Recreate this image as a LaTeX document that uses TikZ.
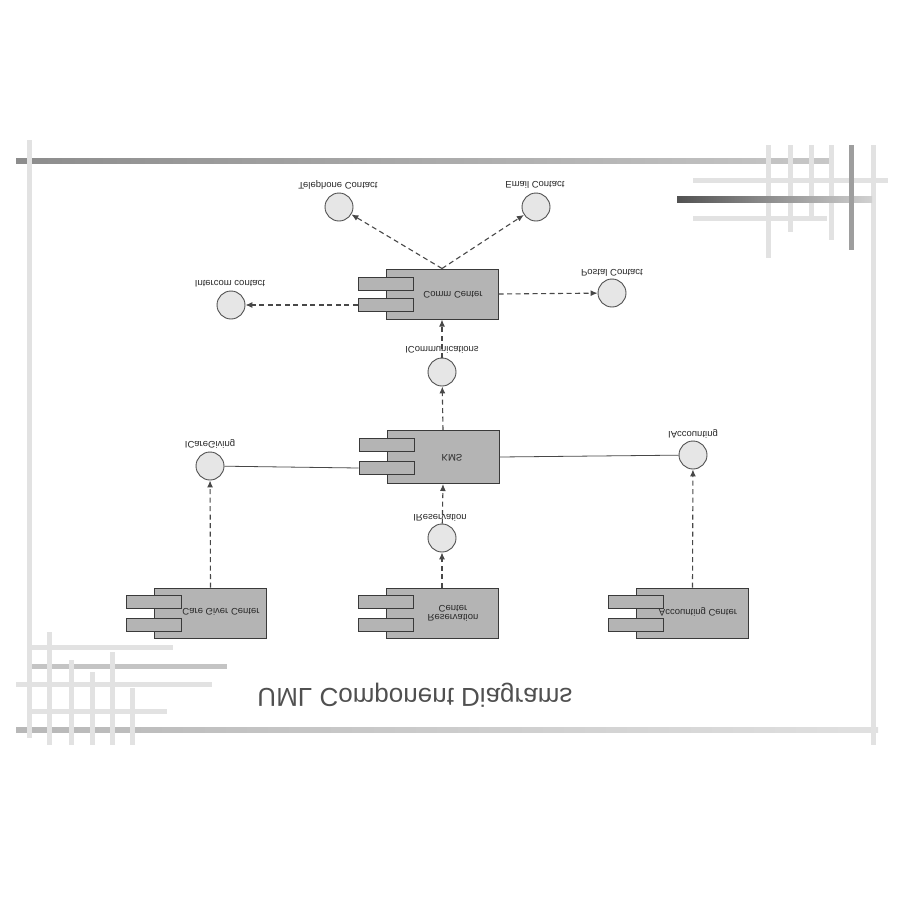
\documentclass[tikz,border=0pt]{standalone}
\usepackage{fontspec}
\setmainfont{Liberation Sans}
\usepackage{graphicx}
\usetikzlibrary{arrows.meta}
\definecolor{boxfill}{HTML}{B4B4B4}
\definecolor{boxborder}{HTML}{3A3A3A}
\definecolor{circfill}{HTML}{E6E6E6}
\definecolor{circborder}{HTML}{505050}
\definecolor{linecol}{HTML}{484848}
\definecolor{textcol}{HTML}{2A2A2A}
\definecolor{titlecol}{HTML}{505050}
\definecolor{barlight}{HTML}{E2E2E2}
\definecolor{barmid}{HTML}{C4C4C4}
\newcommand{\flip}[1]{\scalebox{1}[-1]{#1}}
\tikzset{
  comp/.style={draw=boxborder, fill=boxfill, line width=1pt, minimum width=112pt, minimum height=50pt, inner sep=0pt},
  comptab/.style={draw=boxborder, fill=boxfill, line width=1pt, minimum width=55pt, minimum height=13pt, inner sep=0pt},
  iface/.style={circle, draw=circborder, fill=circfill, line width=0.9pt, minimum size=28pt, inner sep=0pt},
  lbl/.style={font=\fontsize{9.5}{11}\selectfont, text=textcol, inner sep=0pt},
  dep/.style={draw=linecol, line width=1.1pt, dash pattern=on 5pt off 3.5pt, -{Latex[length=7pt,width=6pt]}},
  assoc/.style={draw=linecol, line width=0.8pt},
  lightbar/.style={draw=barlight, line width=5pt},
}
\begin{document}
\begin{tikzpicture}[x=1pt,y=-1pt]
\useasboundingbox (0,0) rectangle (900,900);
\fill[white] (0,0) rectangle (900,900);
% ---- frame decoration ----
\shade[left color=black!45, right color=black!22] (16,158.5) rectangle (830,163.5);
\shade[left color=black!28, right color=black!12] (16,727.5) rectangle (878,732.5);
\draw[lightbar] (29,140) -- (29,738);
\draw[lightbar] (873,145) -- (873,745);
% top right grid
\draw[lightbar] (693,180) -- (888,180);
\draw[lightbar] (693,218) -- (827,218);
\draw[lightbar] (768,145) -- (768,258);
\draw[lightbar] (790,145) -- (790,232);
\draw[lightbar] (811,145) -- (811,220);
\draw[lightbar] (831,145) -- (831,240);
\shade[left color=black!68, right color=black!18] (677,196) rectangle (872,202);
\draw[draw=black!38, line width=5pt] (851,145) -- (851,250);
% bottom left grid
\draw[lightbar] (29,647) -- (173,647);
\draw[draw=barmid, line width=5pt] (32,666) -- (227,666);
\draw[lightbar] (16,684) -- (212,684);
\draw[lightbar] (32,711) -- (167,711);
\draw[lightbar] (49,632) -- (49,745);
\draw[lightbar] (71,660) -- (71,745);
\draw[lightbar] (92,672) -- (92,745);
\draw[lightbar] (112,652) -- (112,745);
\draw[lightbar] (132,688) -- (132,745);
% ---- components ----
\node[comp] (comm) at (442,294) {};
\node[comptab] (commtabA) at (385.5,283.5) {};
\node[comptab] (commtabB) at (385.5,305) {};
\node[lbl] (commtxt) at (453,295) {\flip{Comm Center}};

\node[comp, minimum height=53pt] (kms) at (443,457) {};
\node[comptab] (kmstabA) at (386.5,445) {};
\node[comptab] (kmstabB) at (386.5,468) {};
\node[lbl] (kmstxt) at (452,458) {\flip{KMS}};

\node[comp] (care) at (210.5,613) {};
\node[comptab] (caretabA) at (154,602) {};
\node[comptab] (caretabB) at (154,625) {};
\node[lbl] (caretxt) at (221,612) {\flip{Care Giver Center}};

\node[comp] (resv) at (442,613) {};
\node[comptab] (resvtabA) at (385.5,602) {};
\node[comptab] (resvtabB) at (385.5,625) {};
\node[lbl] (resvtxt) at (453,612) {\flip{\begin{tabular}{@{}c@{}}Reservation\\[-2pt]Center\end{tabular}}};

\node[comp] (acct) at (692.5,613) {};
\node[comptab] (accttabA) at (636,602) {};
\node[comptab] (accttabB) at (636,625) {};
\node[lbl] (accttxt) at (698,612) {\flip{Accounting Center}};

% ---- interfaces ----
\node[iface] (tele) at (339,207) {};
\node[iface] (email) at (536,207) {};
\node[iface] (intercom) at (231,305) {};
\node[iface] (postal) at (612,293) {};
\node[iface] (icomm) at (442,372) {};
\node[iface] (icare) at (210,466) {};
\node[iface] (iacct) at (693,455) {};
\node[iface] (iresv) at (442,538) {};

\node[lbl] (teletxt) at (338,185) {\flip{Telephone Contact}};
\node[lbl] (emailtxt) at (535,185) {\flip{Email Contact}};
\node[lbl] (intercomtxt) at (230,284) {\flip{Intercom contact}};
\node[lbl] (postaltxt) at (612,273) {\flip{Postal Contact}};
\node[lbl] (icommtxt) at (442,350) {\flip{ICommunications}};
\node[lbl] (icaretxt) at (210,444) {\flip{ICareGiving}};
\node[lbl] (iaccttxt) at (693,434) {\flip{IAccounting}};
\node[lbl] (iresvtxt) at (440,518) {\flip{IReservation}};

% ---- connectors ----
\draw[dep] (comm.north) -- (tele);
\draw[dep] (comm.north) -- (email);
\draw[dep] (commtabB.west) -- (intercom);
\draw[dep] (comm.east) -- (postal);
\draw[dep] (icomm) -- (comm.south);
\draw[dep] (kms.north) -- (icomm);
\draw[assoc] (icare) -- (kmstabB.west);
\draw[assoc] (kms.east) -- (iacct);
\draw[dep] (iresv) -- (kms.south);
\draw[dep] (resv.north) -- (iresv);
\draw[dep] (care.north) -- (icare);
\draw[dep] (acct.north) -- (iacct);

% ---- title ----
\node[font=\fontsize{26}{30}\selectfont, text=titlecol, inner sep=0pt] (title) at (415,695) {\flip{UML Component Diagrams}};
\end{tikzpicture}
\end{document}
